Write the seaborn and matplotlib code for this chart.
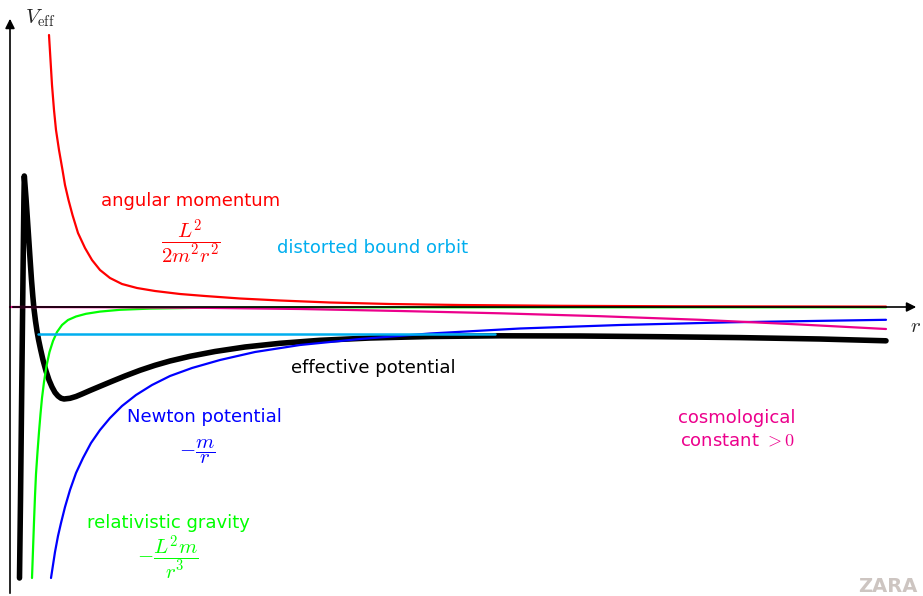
import seaborn as sns
import matplotlib.pyplot as plt

r_red = [39, 40.5, 42, 44, 46, 49, 52.5, 55, 58.5, 62.5, 68, 75, 82, 90, 100, 112, 127, 145, 170, 195,
         230, 270, 320, 380, 450, 550, 670, 876]
v_red = [272, 247, 222, 197, 177, 157, 137, 122, 107, 92, 74, 59, 47, 37, 29, 23, 19, 16, 13, 11,
         8.5, 6.5, 4.5, 3, 2, 1.2, 0.7, 0.4]

r_green = [22, 23, 24, 25, 26, 27.5, 29, 30.5, 32, 34, 36.5, 39.5, 43, 47, 52, 58, 66, 76, 90, 110,
           140, 190, 290, 490, 876]
v_green = [-271, -243, -215, -189, -167, -145, -125, -107, -91, -75, -59, -45, -34, -25, -18, -13, -9.5, -6.8, -4.6, -2.8,
           -1.6, -0.8, -0.4, -0.3, -0.3]

r_blue = [41, 43, 45, 48, 51, 55, 60, 66, 73, 81, 90, 100, 112, 126, 142, 160, 182, 210, 245, 290,
          350, 420, 510, 610, 720, 876]
v_blue = [-271, -258, -245, -229, -216, -200, -183, -166, -151, -136, -123, -111, -99, -88, -78, -69, -61, -53, -45, -38,
          -32, -26.5, -21.5, -18, -15.3, -12.8]

r_cosmo = [0, 90, 190, 290, 390, 490, 590, 690, 790, 876]
v_cosmo = [0, -0.2, -0.8, -2, -4, -6.3, -9.2, -12.8, -17.5, -22]

r_orbit = [28, 485]
v_orbit = [-27, -27]

r_eff = [9.5, 10.5, 11.5, 12.5, 13.3, 13.9, 14.3, 16, 18, 20,
         21.5, 22.8, 24, 25.5, 27, 28.5, 30.5, 33, 36, 39,
         42, 45, 48, 51, 54, 60, 66, 72, 80, 90,
         102, 115, 130, 145, 160, 180, 205, 235, 270, 310,
         360, 420, 490, 570, 650, 730, 810, 876]
v_eff = [-271, -193, -103, -13, 57, 107, 131, 109, 79, 49,
         27, 11, -2, -14, -24, -32.5, -42, -53, -64, -73,
         -80, -85.5, -89, -91.2, -92, -91.3, -89.5, -87, -83.5, -79.3,
         -74.3, -69, -63.3, -58.3, -54, -49.3, -44.5, -40, -36.3, -33.3,
         -31, -29.5, -28.8, -29, -29.7, -30.6, -32, -33.8]

RED, GREEN, BLUE = '#FF0000', '#00FF00', '#0000FF'
CYAN, MAGENTA = '#00AEEF', '#EC008C'

sns.set_style("white")
plt.rcParams['font.family'] = ['DejaVu Sans']
plt.rcParams['mathtext.fontset'] = 'cm'

fig = plt.figure(figsize=(9.23, 5.96), dpi=100)
ax = fig.add_axes([0, 0, 1, 1])
ax.set_xlim(-10, 913)
ax.set_ylim(-289, 307)
ax.axis('off')

# axes with arrows
ax.annotate('', xy=(909, 0), xytext=(0, 0),
            arrowprops=dict(arrowstyle='-|>', color='black', lw=1.2, mutation_scale=14))
ax.annotate('', xy=(0, 291), xytext=(0, -289),
            arrowprops=dict(arrowstyle='-|>', color='black', lw=1.2, mutation_scale=14))

sns.lineplot(x=r_eff, y=v_eff, color='black', lw=4, sort=False, estimator=None, ax=ax)
sns.lineplot(x=r_blue, y=v_blue, color=BLUE, lw=1.6, sort=False, estimator=None, ax=ax)
sns.lineplot(x=r_green, y=v_green, color=GREEN, lw=1.6, sort=False, estimator=None, ax=ax)
sns.lineplot(x=r_cosmo, y=v_cosmo, color=MAGENTA, lw=1.6, sort=False, estimator=None, ax=ax)
sns.lineplot(x=r_red, y=v_red, color=RED, lw=1.6, sort=False, estimator=None, ax=ax)
sns.lineplot(x=r_orbit, y=v_orbit, color=CYAN, lw=1.8, sort=False, estimator=None, ax=ax)

fs = 13
ax.text(30, 289, r'$V_{\mathrm{eff}}$', fontsize=15, ha='center', va='center')
ax.text(905, -19, r'$r$', fontsize=15, ha='center', va='center')

ax.text(181, 106, 'angular momentum', color=RED, fontsize=fs, ha='center', va='center')
ax.text(181, 65, r'$\dfrac{L^2}{2m^2r^2}$', color=RED, fontsize=15, ha='center', va='center')
ax.text(363, 59, 'distorted bound orbit', color=CYAN, fontsize=fs, ha='center', va='center')
ax.text(363, -61, 'effective potential', color='black', fontsize=fs, ha='center', va='center')
ax.text(194, -110, 'Newton potential', color=BLUE, fontsize=fs, ha='center', va='center')
ax.text(187, -145, r'$-\dfrac{m}{r}$', color=BLUE, fontsize=15, ha='center', va='center')
ax.text(727, -111, 'cosmological', color=MAGENTA, fontsize=fs, ha='center', va='center')
ax.text(727, -134, r'constant $>0$', color=MAGENTA, fontsize=fs, ha='center', va='center')
ax.text(158, -216, 'relativistic gravity', color=GREEN, fontsize=fs, ha='center', va='center')
ax.text(158, -251, r'$-\dfrac{L^2m}{r^3}$', color=GREEN, fontsize=15, ha='center', va='center')

# watermark in the corner
ax.text(848, -279, 'ZARA', color='#cdc5c1', fontsize=14, fontweight='bold', ha='left', va='center')

fig.savefig('out.png', dpi=100)
